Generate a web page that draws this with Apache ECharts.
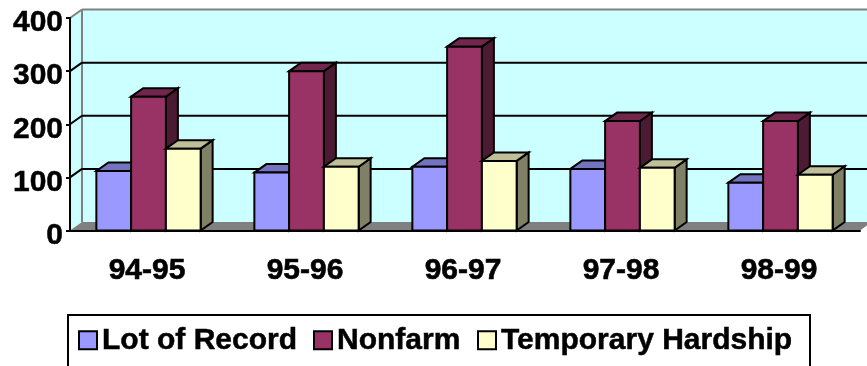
<!DOCTYPE html>
<html>
<head>
<meta charset="utf-8">
<style>html,body{margin:0;padding:0;background:#fff;overflow:hidden}#chart{width:867px;height:366px}</style>
<script src="https://cdn.jsdelivr.net/npm/echarts@6/dist/echarts.min.js"></script>
</head>
<body>
<div id="chart"></div>
<script>
// Values per fiscal year
const categories = ['94-95', '95-96', '96-97', '97-98', '98-99'];
const lotOfRecord = [112, 109, 120, 116, 90];
const nonfarm = [252, 300, 346, 206, 206];
const temporaryHardship = [154, 120, 131, 118, 105];
const valueTicks = [100, 200, 300];

// Pseudo-3D projection: how far the rear plane is shifted from the front plane
const DX = 12, DY = -8.5;
const FONT = '"Liberation Sans", Arial, sans-serif';
const BAR_SHARE = 0.22;
const GROUP_SHIFT = -0.5;

const shade = { fill: 1, top: 0.75, side: 0.5 };
function darken(hex, k) {
  const n = parseInt(hex.slice(1), 16);
  const c = s => Math.round(((n >> s) & 255) * k);
  return `rgb(${c(16)},${c(8)},${c(0)})`;
}

function poly(points, fill, stroke, width) {
  return {
    type: 'polygon',
    shape: { points },
    style: { fill, stroke: stroke || null, lineWidth: width || 0, lineJoin: 'miter' }
  };
}
function seg(x1, y1, x2, y2, stroke, width) {
  return {
    type: 'line',
    shape: { x1, y1, x2, y2 },
    style: { stroke, lineWidth: width, fill: null }
  };
}

// Walls, floor and rear gridlines
function renderRoom(params, api) {
  const g = params.coordSys;
  const x0 = g.x, x1 = g.x + g.width, yTop = g.y, yBase = g.y + g.height;
  const children = [
    poly([[x0 + DX, yTop + DY], [x1 + DX, yTop + DY], [x1 + DX, yBase + DY], [x0 + DX, yBase + DY]], '#CCFFFF'),
    poly([[x0, yTop], [x0 + DX, yTop + DY], [x0 + DX, yBase + DY], [x0, yBase]], '#CCFFFF'),
    poly([[x0, yBase], [x0 + DX, yBase + DY], [x1 + DX, yBase + DY], [x1, yBase]], '#808080'),
    seg(x0, yTop, x0 + DX, yTop + DY, '#808080', 2),
    seg(x0 + DX, yTop + DY, x1 + DX, yTop + DY, '#808080', 2),
    seg(x0 + DX, yTop + DY, x0 + DX, yBase + DY, '#808080', 2)
  ];
  valueTicks.forEach(v => {
    const y = api.coord([0, v])[1];
    children.push(seg(x0, y, x0 + DX, y + DY, '#000', 2));
    children.push(seg(x0 + DX, y + DY, x1 + DX, y + DY, '#000', 2));
  });
  return { type: 'group', children };
}

// One box: side and top faces first, then the front face
function boxRenderer(slot, color) {
  return function (params, api) {
    const p = api.coord([api.value(0), api.value(1)]);
    const base = api.coord([api.value(0), 0])[1];
    const w = api.size([1, 0])[0] * BAR_SHARE;
    const l = p[0] + (slot - 1.5) * w + GROUP_SHIFT, r = l + w, t = p[1];
    return {
      type: 'group',
      children: [
        poly([[r, t], [r + DX, t + DY], [r + DX, base + DY], [r, base]], darken(color, shade.side), '#000', 2),
        poly([[l, t], [l + DX, t + DY], [r + DX, t + DY], [r, t]], darken(color, shade.top), '#000', 2),
        poly([[l, t], [r, t], [r, base], [l, base]], color, '#000', 2)
      ]
    };
  };
}

function boxSeries(name, values, slot, color) {
  return {
    name,
    type: 'custom',
    z: 3 + slot,
    renderItem: boxRenderer(slot, color),
    itemStyle: { color, borderColor: '#000', borderWidth: 2 },
    encode: { x: 0, y: 1 },
    data: values.map((v, i) => [i, v])
  };
}

function legendItem(name, left, gap) {
  return {
    data: [name],
    left,
    top: 325,
    padding: 0,
    icon: 'rect',
    itemWidth: 18,
    itemHeight: 18,
    itemGap: 7,
    selectedMode: false,
    textStyle: {
      fontFamily: FONT, fontWeight: 'bold', fontSize: 30, color: '#000',
      textBorderColor: '#000', textBorderWidth: 0.5
    }
  };
}

const chart = echarts.init(document.getElementById('chart'), null, { renderer: 'canvas' });
chart.setOption({
  animation: false,
  backgroundColor: '#fff',
  grid: { left: 70, right: 7, top: 18, height: 212.5, containLabel: false },
  xAxis: {
    type: 'category',
    data: categories,
    z: 8,
    axisLine: { lineStyle: { color: '#000', width: 2 } },
    axisTick: { length: 5, lineStyle: { color: '#000', width: 2 } },
    axisLabel: {
      margin: 25, color: '#000', fontFamily: FONT, fontWeight: 'bold', fontSize: 30,
      textBorderColor: '#000', textBorderWidth: 0.6, padding: [0, 4, 0, 0]
    }
  },
  yAxis: {
    type: 'value',
    min: 0,
    max: 400,
    interval: 100,
    z: 8,
    splitLine: { show: false },
    axisLine: { show: true, lineStyle: { color: '#000', width: 2 } },
    axisTick: { show: true, length: 4, lineStyle: { color: '#000', width: 2 } },
    axisLabel: {
      margin: 7, color: '#000', fontFamily: FONT, fontWeight: 'bold', fontSize: 30,
      textBorderColor: '#000', textBorderWidth: 0.5,
      verticalAlign: 'top', lineHeight: 10
    }
  },
  legend: [
    legendItem('Lot of Record', 78),
    legendItem('Nonfarm', 313),
    legendItem('Temporary Hardship', 477)
  ],
  graphic: [{
    type: 'rect',
    shape: { x: 68, y: 315, width: 742, height: 70 },
    style: { fill: null, stroke: '#000', lineWidth: 2 },
    z: 1
  }],
  series: [
    {
      type: 'custom',
      name: 'room',
      z: 1,
      renderItem: renderRoom,
      encode: { x: 0, y: 1 },
      data: [[0, 0]]
    },
    boxSeries('Lot of Record', lotOfRecord, 0, '#9999FF'),
    boxSeries('Nonfarm', nonfarm, 1, '#993366'),
    boxSeries('Temporary Hardship', temporaryHardship, 2, '#FFFFCC')
  ]
});
</script>
</body>
</html>
